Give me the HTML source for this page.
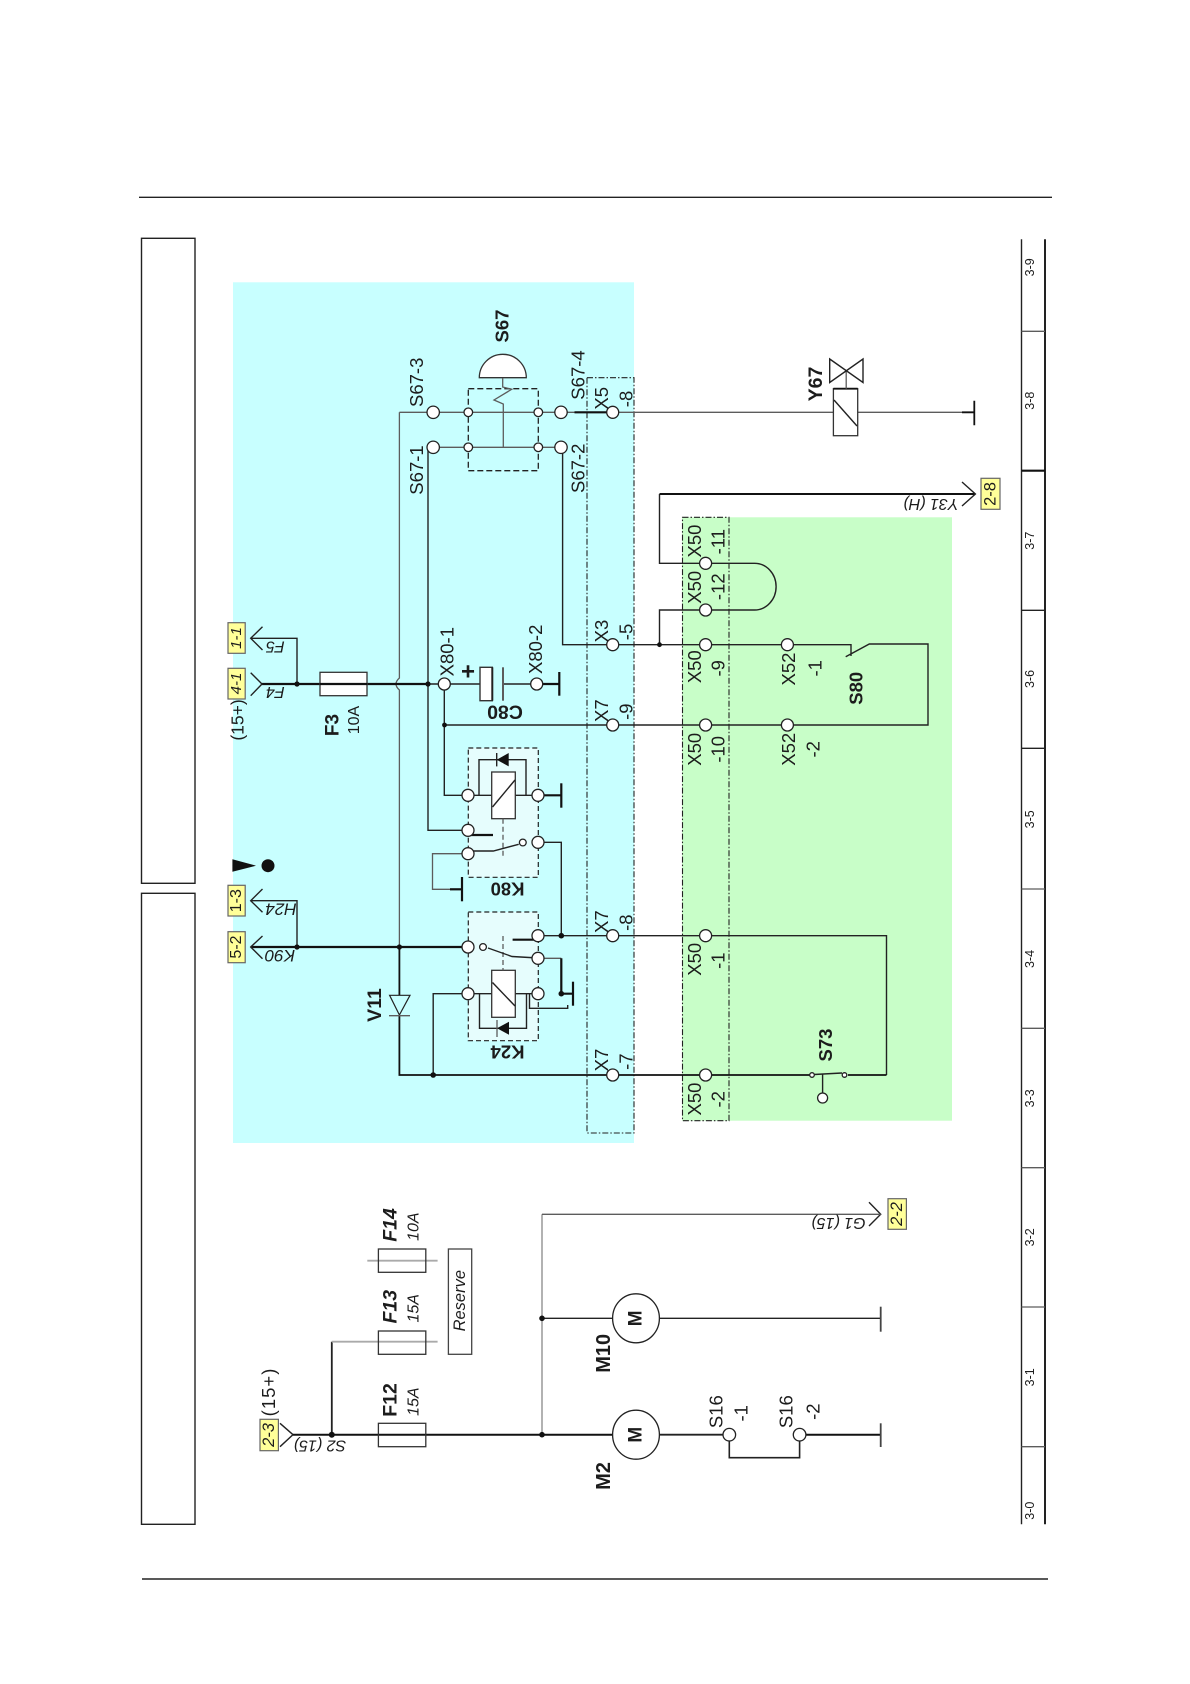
<!DOCTYPE html>
<html><head><meta charset="utf-8"><style>
html,body{margin:0;padding:0;background:#fff}
svg{display:block}
text{font-family:"Liberation Sans",sans-serif;fill:#1c1c1c;dominant-baseline:central;text-anchor:middle}
.l{font-size:18.5px}.b{font-size:18.5px;font-weight:bold}.s{font-size:16px}.i{font-size:16px;font-style:italic}
.t{font-size:15px;font-style:italic}.z{font-size:12.5px}
.w{fill:none;stroke:#222;stroke-width:1.4}.k{fill:none;stroke:#111;stroke-width:2.2}.g{fill:none;stroke:#5c5c5c;stroke-width:1.3}.lg{fill:none;stroke:#aaa;stroke-width:1.8}
.c{fill:#fff;stroke:#222;stroke-width:1.3}.y{fill:#ffff99;stroke:#666;stroke-width:1.2}
.d{fill:#111}.r{fill:#fff;stroke:#333;stroke-width:1.3}
</style></head><body>
<svg xmlns="http://www.w3.org/2000/svg" width="1190" height="1684" viewBox="0 0 1190 1684">
<rect width="1190" height="1684" fill="#fff"/>
<!-- page frame -->
<path class="w" d="M139 197.3H1052M142 1579H1048"/>
<rect x="141.5" y="238.3" width="53.5" height="645" fill="none" stroke="#222" stroke-width="1.4"/>
<rect x="141.5" y="893.3" width="53.5" height="631" fill="none" stroke="#222" stroke-width="1.4"/>
<!-- areas -->
<rect x="233" y="282.3" width="401" height="860.7" fill="#c8ffff"/>
<rect x="682" y="517.3" width="270" height="603.4" fill="#c8fec8"/>
<rect x="587" y="377.7" width="47" height="755.3" fill="none" stroke="#222" stroke-width="1.1" stroke-dasharray="6 2 1.5 2"/>
<rect x="682.5" y="517.3" width="46.5" height="603.4" fill="none" stroke="#222" stroke-width="1.1" stroke-dasharray="6 2 1.5 2"/>
<!-- scale -->
<path class="w" d="M1021.5 239.3V1524.3"/><path d="M1045 239.3V1524.3" fill="none" stroke="#222" stroke-width="2"/>
<path class="g" d="M1021.5 331.3H1045M1021.5 889H1045M1021.5 1028.3H1045M1021.5 1167.7H1045M1021.5 1446.7H1045M1021.5 1307H1045"/>
<path class="k" d="M1021.5 470.7H1045"/><path class="w" d="M1021.5 610.3H1045M1021.5 748.3H1045"/>
<g class="z">
<text class="z" transform="translate(1030,267.3) rotate(-90)">3-9</text>
<text class="z" transform="translate(1030,400.7) rotate(-90)">3-8</text>
<text class="z" transform="translate(1030,540.7) rotate(-90)">3-7</text>
<text class="z" transform="translate(1030,679) rotate(-90)">3-6</text>
<text class="z" transform="translate(1030,819.3) rotate(-90)">3-5</text>
<text class="z" transform="translate(1030,959) rotate(-90)">3-4</text>
<text class="z" transform="translate(1030,1098.3) rotate(-90)">3-3</text>
<text class="z" transform="translate(1030,1237.3) rotate(-90)">3-2</text>
<text class="z" transform="translate(1030,1377.3) rotate(-90)">3-1</text>
<text class="z" transform="translate(1030,1510.7) rotate(-90)">3-0</text>
</g>
<!-- relay / switch boxes -->
<rect x="468.3" y="748" width="70" height="129.3" fill="#e6fdfd" stroke="#222" stroke-width="1.2" stroke-dasharray="5 3"/>
<rect x="468.3" y="912" width="70" height="128.7" fill="#e6fdfd" stroke="#222" stroke-width="1.2" stroke-dasharray="5 3"/>
<rect x="468.3" y="388.7" width="70" height="82" fill="none" stroke="#222" stroke-width="1.3" stroke-dasharray="6 3"/>
<!-- wires -->
<path class="g" d="M399.4 412.3V678Q396 681 396 684Q396 687 399.4 690V947"/>
<path class="g" d="M399.4 412.3H574.5M612.7 412.3H833.4M857.7 412.3H974.3"/>
<path class="k" d="M574.5 412.3H612.7"/>
<path class="g" d="M433 447.3H561"/>
<path class="w" d="M428 447.3V830.3H468"/>
<path class="w" d="M562.6 447.3V644.7H612.7"/>
<path class="w" d="M612.7 644.7H705.6M705.6 644.7H787.4H851V656M845.7 656.7L869.3 644H928V725H444.5"/>
<path class="k" d="M250.7 947H468"/>
<path class="k" d="M262 684H320M367 684H428"/>
<path class="w" d="M428 684H444.3V795.3H468"/>
<path class="w" d="M250.7 638.3H297V684M250.7 900.7H297V947"/>
<path class="w" d="M444.3 684H480M503 684H537"/>
<path class="k" d="M537 684H559.3"/><path class="k" d="M559.3 672V695.7"/>
<!-- capacitor -->
<rect x="480" y="667.3" width="12.3" height="33.4" fill="#fff" stroke="#333" stroke-width="1.4"/>
<path class="w" d="M492.3 667.3V700.7" style="stroke-width:2"/>
<path class="g" d="M503 667.3V700.7" style="stroke-width:2"/>
<text style="font-size:24px;font-weight:bold" transform="translate(468,672)">+</text>
<!-- K80 -->
<path class="w" d="M468 795.3H538.5"/>
<path class="w" d="M479 795.3V759.7H526V795.3"/>
<path class="k" d="M538.5 795.3H561.3"/><path class="k" d="M561.3 783.3V807.7"/>
<rect class="r" x="491.7" y="772" width="23.6" height="46.7"/>
<path class="w" d="M492.5 807L515 780"/>
<path class="d" d="M496.7 759.7L508.7 753V766.4Z"/><path class="w" d="M496.7 753V766.4"/>
<path class="k" d="M468 835H493"/>
<path class="g" d="M503 818.7V856" stroke-dasharray="5 3"/>
<path class="w" d="M468.3 851H493.3L518.7 844.3"/>
<path class="w" d="M538 842.3H561.3V935.7"/>
<path class="g" d="M468 853.7H432.5V889.3H450"/>
<path class="k" d="M450 889.3H462"/><path class="k" d="M462 877V901.3"/>
<!-- K24 -->
<path class="w" d="M468 993.7H538"/>
<path class="w" d="M479.5 993.7V1028.3H526.5V993.7"/>
<path class="w" d="M529.5 993.7V1008.3H567.7V1005"/>
<rect class="r" x="491.7" y="970.3" width="23.6" height="47"/>
<path class="w" d="M492.5 982.5L515 1006"/>
<path class="d" d="M497 1028.3L509 1021.8V1034.8Z"/><path class="g" d="M497 1020V1037"/>
<path class="g" d="M503 936V970.3" stroke-dasharray="5 3"/>
<path class="k" d="M512.6 939.7H538"/>
<path class="w" d="M488 948L512 956.5L538 958"/>
<path class="g" d="M538 958.3H561.3"/><path class="k" d="M561.3 958.3V993.7H573"/><path class="k" d="M573 981.7V1005.7"/>
<path class="w" d="M538 935.7H705.6H886.5V1075"/>
<path class="k" d="M399.4 947V995M399.4 1015V1075H705.6" style="stroke-width:1.8"/>
<path class="w" d="M433.2 1075V993.7H468"/>
<path class="k" d="M705.6 1075H812M848 1075H886.5" style="stroke-width:1.8"/>
<!-- V11 -->
<path d="M389.6 995.3H410L399.4 1015Z" fill="#c8ffff" stroke="#222" stroke-width="1.2"/><path class="g" d="M389 1015.7H410"/>
<!-- S73 -->
<path class="w" d="M814 1074.5L842 1073"/><path class="w" d="M822.6 1074.5V1093"/>
<circle class="c" cx="812" cy="1075" r="2.3"/><circle class="c" cx="844.5" cy="1075" r="2.3"/><circle class="c" cx="822.6" cy="1098" r="5"/>
<!-- X50 loop -->
<path class="k" d="M659.5 494H975.4" style="stroke-width:2"/>
<path class="w" d="M659.5 494V563.3H754.6A21.5 23.35 0 0 1 754.6 610H659.5V644.7"/>
<!-- S67 -->
<path d="M479.3 377.7A23.5 23.4 0 0 1 526.3 377.7Z" fill="#fff" stroke="#333" stroke-width="1.3"/>
<path class="g" d="M502.7 378V387L511.7 389.3L494 400L503.3 404V447.3"/>
<!-- Y67 -->
<rect class="r" x="833.4" y="388.7" width="24.3" height="47" fill="#fff"/>
<path class="w" d="M834 400L857 426"/><path class="k" d="M833.4 388.7H857.7" style="stroke-width:1.8"/>
<path class="g" d="M846.2 388.7V370"/>
<path class="w" d="M829.7 359L863 382.5V359L829.7 382.5Z"/>
<path class="k" d="M962 412.3H974.3M974.3 400.7V425.3" style="stroke-width:1.8"/>
<!-- fuse F3 -->
<rect class="r" x="320" y="672.3" width="47" height="23.4"/>
<path class="k" d="M320 684H367"/>
<!-- tags -->
<rect class="y" x="228" y="622.7" width="17.2" height="30.6"/>
<rect class="y" x="228" y="668.3" width="17.2" height="30.7"/>
<rect class="y" x="228" y="885.3" width="17.2" height="30.7"/>
<rect class="y" x="228" y="931.7" width="17.2" height="31"/>
<rect class="y" x="260" y="1419.3" width="18.4" height="31.4"/>
<rect class="y" x="981" y="478.3" width="19" height="31"/>
<rect class="y" x="888" y="1198.7" width="18.4" height="30.6"/>
<text class="t" transform="translate(236.5,638) rotate(-90)">1-1</text>
<text class="t" transform="translate(236.5,683.5) rotate(-90)">4-1</text>
<text class="s" transform="translate(236.5,900.7) rotate(-90)">1-3</text>
<text class="s" transform="translate(236.5,947) rotate(-90)">5-2</text>
<text class="t" style="font-size:16.5px" transform="translate(269,1435) rotate(-90)">2-3</text>
<text class="s" style="font-size:16.5px" transform="translate(990.5,494) rotate(-90)">2-8</text>
<text class="t" style="font-size:16.5px" transform="translate(897,1214) rotate(-90)">2-2</text>
<!-- arrows -->
<path class="w" d="M262.5 626.7L250.7 638.3L262.5 650M250.7 672.7L262 684L250.7 695.7M262.5 889L250.7 900.7L262.5 912.3M262.5 936L250.7 947L262.5 958.7M280 1423.3L293 1434.7L280 1446.7M962 482L975.4 494L962 506M869 1202.3L880.7 1214.3L869 1226"/>
<!-- warning -->
<path d="M232.4 859.3L256 865.7L232.4 871.7Z" fill="#111"/><circle cx="268" cy="865.7" r="6.5" fill="#111"/>
<!-- lower left section -->
<path class="k" d="M293 1434.7H613M799.6 1434.7H880.7" style="stroke-width:2"/>
<path class="w" d="M659.6 1434.7H729.3M331.8 1341.7V1434.7" style="stroke-width:1.8"/>
<path class="k" d="M880.7 1423.3V1447" style="stroke:#444;stroke-width:1.8"/>
<path class="lg" d="M331.8 1341.7H437.6M367.3 1260.7H437.6M542 1434.7V1214.3"/>
<path class="g" d="M542 1214.3H880.7"/>
<path class="w" d="M542 1318.3H613M659.6 1318.3H880.7"/>
<path class="w" d="M880.7 1306.7V1331.7" style="stroke:#444;stroke-width:1.8"/>
<path class="w" d="M729.3 1434.7V1457.7H799.6V1434.7" style="stroke-width:1.6"/>
<rect x="378.4" y="1423.3" width="47.4" height="23.4" fill="none" stroke="#333" stroke-width="1.3"/>
<rect x="378.4" y="1331" width="47.4" height="23.3" fill="none" stroke="#333" stroke-width="1.3"/>
<rect x="378.4" y="1249" width="47.4" height="23.3" fill="none" stroke="#333" stroke-width="1.3"/>
<rect x="448.4" y="1249" width="23.3" height="105.3" fill="none" stroke="#444" stroke-width="1.3"/>
<ellipse class="c" cx="636" cy="1318.3" rx="23.4" ry="24.5"/><ellipse class="c" cx="636" cy="1434.7" rx="23.4" ry="24.5"/>
<!-- junctions -->
<g class="d">
<circle cx="297" cy="684" r="2.6"/><circle cx="428" cy="684" r="2.6"/><circle cx="297" cy="947" r="2.6"/><circle cx="399.4" cy="947" r="2.6"/>
<circle cx="444.5" cy="725" r="2.4"/><circle cx="561.3" cy="935.7" r="2.8"/><circle cx="561.3" cy="993.7" r="2.8"/><circle cx="433.2" cy="1075" r="2.8"/>
<circle cx="659.5" cy="644.7" r="2.4"/><circle cx="331.8" cy="1434.7" r="3"/><circle cx="542" cy="1434.7" r="2.8"/><circle cx="542" cy="1318.3" r="2.8"/>
</g>
<!-- circles -->
<g class="c">
<circle class="c" cx="433.2" cy="412.3" r="6.2"/><circle class="c" cx="433.2" cy="447.3" r="6.2"/>
<circle class="c" cx="561" cy="412.3" r="6.2"/><circle class="c" cx="561" cy="447.3" r="6.2"/>
<circle class="c" cx="468.3" cy="412.3" r="4.3"/><circle class="c" cx="538.3" cy="412.3" r="4.3"/><circle class="c" cx="468.3" cy="447.3" r="4.3"/><circle class="c" cx="538.3" cy="447.3" r="4.3"/>
<circle class="c" cx="612.7" cy="412.3" r="6"/><circle class="c" cx="612.7" cy="644.7" r="6"/><circle class="c" cx="612.7" cy="725" r="6"/><circle class="c" cx="612.7" cy="935.7" r="6"/><circle class="c" cx="612.7" cy="1075" r="6"/>
<circle class="c" cx="444.3" cy="684" r="6"/><circle class="c" cx="536.7" cy="684" r="6"/>
<circle class="c" cx="468" cy="795.3" r="6"/><circle class="c" cx="538" cy="795.3" r="6"/><circle class="c" cx="468" cy="830.3" r="6"/><circle class="c" cx="468" cy="853.7" r="6"/><circle class="c" cx="538" cy="842.3" r="6"/><circle class="c" cx="522.8" cy="842.5" r="3.4"/>
<circle class="c" cx="468" cy="947" r="6"/><circle class="c" cx="483" cy="947" r="3.4"/><circle class="c" cx="538" cy="935.7" r="6"/><circle class="c" cx="538" cy="958.3" r="6"/><circle class="c" cx="468" cy="993.7" r="6"/><circle class="c" cx="538" cy="993.7" r="6"/>
<circle class="c" cx="705.6" cy="563.3" r="6"/><circle class="c" cx="705.6" cy="610" r="6"/><circle class="c" cx="705.6" cy="644.7" r="6"/><circle class="c" cx="705.6" cy="725" r="6"/><circle class="c" cx="705.6" cy="935.7" r="6"/><circle class="c" cx="705.6" cy="1075" r="6"/>
<circle class="c" cx="787.4" cy="644.7" r="6"/><circle class="c" cx="787.4" cy="725" r="6"/>
<circle class="c" cx="729.3" cy="1434.7" r="6.3"/><circle class="c" cx="799.6" cy="1434.7" r="6.3"/>
</g>
<!-- labels rotated -90 -->
<text class="l" transform="translate(416.6,382.3) rotate(-90)">S67-3</text>
<text class="l" transform="translate(416.6,470) rotate(-90)">S67-1</text>
<text class="l" transform="translate(577.9,375) rotate(-90)">S67-4</text>
<text class="l" transform="translate(577.9,468.3) rotate(-90)">S67-2</text>
<text class="b" transform="translate(501.8,326) rotate(-90)">S67</text>
<text class="l" transform="translate(601.5,398.3) rotate(-90)">X5</text>
<text class="l" transform="translate(626,399) rotate(-90)">-8</text>
<text class="l" transform="translate(601.5,631) rotate(-90)">X3</text>
<text class="l" transform="translate(626,632) rotate(-90)">-5</text>
<text class="l" transform="translate(447,651.7) rotate(-90)">X80-1</text>
<text class="l" transform="translate(535.6,649.3) rotate(-90)">X80-2</text>
<text class="l" transform="translate(601.5,710.7) rotate(-90)">X7</text>
<text class="l" transform="translate(626,711.7) rotate(-90)">-9</text>
<text class="l" transform="translate(601.5,921.7) rotate(-90)">X7</text>
<text class="l" transform="translate(626,922.7) rotate(-90)">-8</text>
<text class="l" transform="translate(601.5,1060) rotate(-90)">X7</text>
<text class="l" transform="translate(626,1061.7) rotate(-90)">-7</text>
<text class="l" transform="translate(694.5,541) rotate(-90)">X50</text>
<text class="l" transform="translate(718,541.7) rotate(-90)">-11</text>
<text class="l" transform="translate(694.5,587.3) rotate(-90)">X50</text>
<text class="l" transform="translate(718,586.7) rotate(-90)">-12</text>
<text class="l" transform="translate(694.5,666.7) rotate(-90)">X50</text>
<text class="l" transform="translate(718,668.3) rotate(-90)">-9</text>
<text class="l" transform="translate(694.5,749.3) rotate(-90)">X50</text>
<text class="l" transform="translate(718,749.3) rotate(-90)">-10</text>
<text class="l" transform="translate(694.5,959.3) rotate(-90)">X50</text>
<text class="l" transform="translate(718,960.7) rotate(-90)">-1</text>
<text class="l" transform="translate(694.5,1099) rotate(-90)">X50</text>
<text class="l" transform="translate(718,1099.3) rotate(-90)">-2</text>
<text class="l" transform="translate(788.3,669) rotate(-90)">X52</text>
<text class="l" transform="translate(815,668.3) rotate(-90)">-1</text>
<text class="l" transform="translate(788.4,749.3) rotate(-90)">X52</text>
<text class="l" transform="translate(812.8,749.3) rotate(-90)">-2</text>
<text class="b" transform="translate(856,688.3) rotate(-90)">S80</text>
<text class="b" transform="translate(825.6,1045) rotate(-90)">S73</text>
<text class="b" style="font-size:19.5px" transform="translate(815.8,384) rotate(-90)">Y67</text>
<text class="b" style="font-size:19.5px" transform="translate(375,1005) rotate(-90)">V11</text>
<text class="b" style="font-size:19px" transform="translate(332.8,725) rotate(-90)">F3</text>
<text class="s" transform="translate(354.5,720) rotate(-90)">10A</text>
<text class="l" style="font-size:17.5px" transform="translate(237.5,720) rotate(-90)">(15+)</text>
<text class="l" style="letter-spacing:1px" transform="translate(268.6,1392) rotate(-90)">(15+)</text>
<text class="b" style="font-size:19.5px" transform="translate(390.3,1400) rotate(-90)">F12</text>
<text class="i" transform="translate(414,1401.7) rotate(-90)">15A</text>
<text class="b" style="font-size:19.5px;font-style:italic" transform="translate(390.3,1306.7) rotate(-90)">F13</text>
<text class="i" transform="translate(414,1308.3) rotate(-90)">15A</text>
<text class="b" style="font-size:19.5px;font-style:italic" transform="translate(390.3,1225) rotate(-90)">F14</text>
<text class="i" transform="translate(414,1226.7) rotate(-90)">10A</text>
<text class="i" style="font-size:16.5px" transform="translate(460,1300.7) rotate(-90)">Reserve</text>
<text class="b" style="font-size:19px" transform="translate(636,1318.3) rotate(-90)">M</text>
<text class="b" style="font-size:19px" transform="translate(636,1434.7) rotate(-90)">M</text>
<text class="b" style="font-size:20px" transform="translate(604,1353.3) rotate(-90)">M10</text>
<text class="b" style="font-size:20px" transform="translate(604,1476) rotate(-90)">M2</text>
<text class="l" transform="translate(715.8,1411.7) rotate(-90)">S16</text>
<text class="l" transform="translate(741,1413.3) rotate(-90)">-1</text>
<text class="l" transform="translate(786,1411.7) rotate(-90)">S16</text>
<text class="l" transform="translate(812.8,1411.7) rotate(-90)">-2</text>
<!-- labels rotated 180 -->
<text class="b" style="font-size:19.5px" transform="translate(505,711.7) rotate(180)">C80</text>
<text class="b" transform="translate(507.5,889) rotate(180)">K80</text>
<text class="b" transform="translate(507.5,1052) rotate(180)">K24</text>
<text class="i" transform="translate(275.3,646) rotate(180)">F5</text>
<text class="i" transform="translate(275.3,691.7) rotate(180)">F4</text>
<text class="i" style="font-size:17px" transform="translate(281,909) rotate(180)">H24</text>
<text class="i" style="font-size:17px" transform="translate(280,955.7) rotate(180)">K90</text>
<text class="i" transform="translate(320,1445) rotate(180)">S2 (15)</text>
<text class="i" transform="translate(838.5,1222.7) rotate(180)">G1 (15)</text>
<text class="i" transform="translate(931,503.3) rotate(180)">Y31 (H)</text>
</svg>
</body></html>
